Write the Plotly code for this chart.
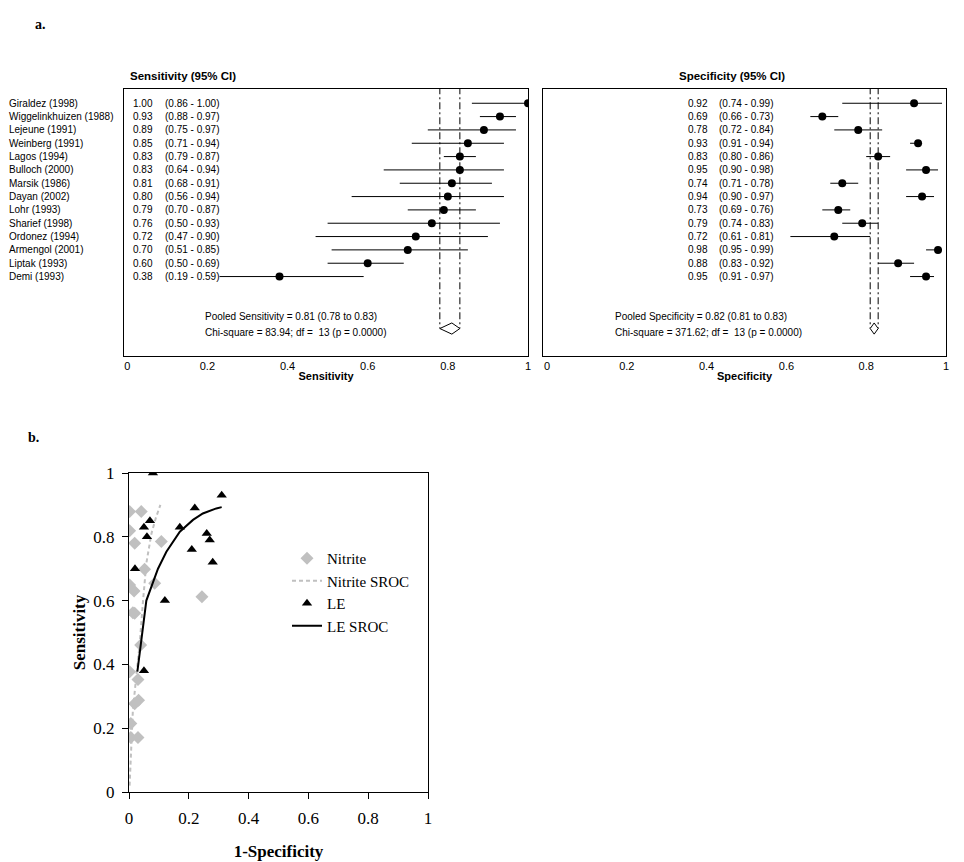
import plotly.graph_objects as go

# ---------------- data ----------------
studies = ["Giraldez (1998)", "Wiggelinkhuizen (1988)", "Lejeune (1991)", "Weinberg (1991)",
           "Lagos (1994)", "Bulloch (2000)", "Marsik (1986)", "Dayan (2002)", "Lohr (1993)",
           "Sharief (1998)", "Ordonez (1994)", "Armengol (2001)", "Liptak (1993)", "Demi (1993)"]
sens = [1.00, 0.93, 0.89, 0.85, 0.83, 0.83, 0.81, 0.80, 0.79, 0.76, 0.72, 0.70, 0.60, 0.38]
sens_lo = [0.86, 0.88, 0.75, 0.71, 0.79, 0.64, 0.68, 0.56, 0.70, 0.50, 0.47, 0.51, 0.50, 0.19]
sens_hi = [1.00, 0.97, 0.97, 0.94, 0.87, 0.94, 0.91, 0.94, 0.87, 0.93, 0.90, 0.85, 0.69, 0.59]
spec = [0.92, 0.69, 0.78, 0.93, 0.83, 0.95, 0.74, 0.94, 0.73, 0.79, 0.72, 0.98, 0.88, 0.95]
spec_lo = [0.74, 0.66, 0.72, 0.91, 0.80, 0.90, 0.71, 0.90, 0.69, 0.74, 0.61, 0.95, 0.83, 0.91]
spec_hi = [0.99, 0.73, 0.84, 0.94, 0.86, 0.98, 0.78, 0.97, 0.76, 0.83, 0.81, 0.99, 0.92, 0.97]

pooled_sens = [0.81, 0.78, 0.83]
pooled_spec = [0.82, 0.81, 0.83]
sens_chi = "83.94"
spec_chi = "371.62"
df_val = 13
p_val = "0.0000"

# SROC panel (b)
nitrite_fpr = [0.002, 0.041, 0.002, 0.019, 0.108, 0.052, 0.002, 0.017, 0.086, 0.244,
               0.013, 0.019, 0.039, 0.002, 0.030, 0.032, 0.019, 0.006, 0.006, 0.030]
nitrite_sens = [0.879, 0.879, 0.819, 0.780, 0.785, 0.698, 0.649, 0.630, 0.654, 0.612,
                0.562, 0.560, 0.461, 0.377, 0.353, 0.288, 0.277, 0.215, 0.171, 0.171]
nitrite_sroc_x = [0.002, 0.008, 0.013, 0.024, 0.036, 0.047, 0.058, 0.075, 0.090, 0.105]
nitrite_sroc_y = [0.020, 0.140, 0.257, 0.360, 0.467, 0.600, 0.717, 0.810, 0.860, 0.900]
le_fpr = [1 - s for s in spec]
le_sens = sens
le_sroc_x = [0.028, 0.039, 0.058, 0.075, 0.097, 0.125, 0.170, 0.214, 0.247, 0.292, 0.310]
le_sroc_y = [0.377, 0.466, 0.600, 0.644, 0.700, 0.753, 0.816, 0.853, 0.873, 0.889, 0.893]

ticks = [0, 0.2, 0.4, 0.6, 0.8, 1]
tick_text = ["0", "0.2", "0.4", "0.6", "0.8", "1"]

# ---------------- figure ----------------
W, H = 964, 862
OFF = 8  # page body margin of the browser
SANS = "Liberation Sans, Arial, sans-serif"
SERIF = "Liberation Serif, Times New Roman, serif"


def px(x):
    return (x - OFF) / W


def py(y):
    return 1 - (y - OFF) / H


fig = go.Figure()
rows = list(range(len(studies)))
DIAMOND_ROW = 16.9
DH = 0.42


def forest(est, lo, hi, pooled, xa, ya):
    xs, ys = [], []
    for i, (a, b) in enumerate(zip(lo, hi)):
        xs += [a, b, None]
        ys += [i, i, None]
    fig.add_trace(go.Scatter(x=xs, y=ys, mode="lines", line=dict(color="black", width=1),
                             xaxis=xa, yaxis=ya, showlegend=False, hoverinfo="skip"))
    fig.add_trace(go.Scatter(x=est, y=rows, mode="markers",
                             marker=dict(symbol="circle", size=8, color="black"),
                             xaxis=xa, yaxis=ya, showlegend=False))
    pe, pl, ph = pooled
    for v in (pl, ph):
        fig.add_trace(go.Scatter(x=[v, v], y=[-1.2, DIAMOND_ROW], mode="lines",
                                 line=dict(color="black", width=1, dash="7px,3px,2px,3px"),
                                 xaxis=xa, yaxis=ya, showlegend=False, hoverinfo="skip"))
    fig.add_trace(go.Scatter(x=[pl, pe, ph, pe, pl],
                             y=[DIAMOND_ROW, DIAMOND_ROW - DH, DIAMOND_ROW, DIAMOND_ROW + DH, DIAMOND_ROW],
                             mode="lines", line=dict(color="black", width=1), fill="toself",
                             fillcolor="white", xaxis=xa, yaxis=ya, showlegend=False,
                             hoverinfo="skip"))


forest(sens, sens_lo, sens_hi, pooled_sens, "x", "y")
forest(spec, spec_lo, spec_hi, pooled_spec, "x2", "y2")

# SROC traces
fig.add_trace(go.Scatter(x=nitrite_fpr, y=nitrite_sens, mode="markers", name="Nitrite",
                         marker=dict(symbol="diamond", size=10, color="#C0C0C0"),
                         xaxis="x3", yaxis="y3"))
fig.add_trace(go.Scatter(x=nitrite_sroc_x, y=nitrite_sroc_y, mode="lines", name="Nitrite SROC",
                         line=dict(color="#C0C0C0", width=2, dash="4px,3px"),
                         xaxis="x3", yaxis="y3"))
fig.add_trace(go.Scatter(x=le_fpr, y=le_sens, mode="markers", name="LE",
                         marker=dict(symbol="triangle-up", size=9, color="black"),
                         xaxis="x3", yaxis="y3"))
fig.add_trace(go.Scatter(x=le_sroc_x, y=le_sroc_y, mode="lines", name="LE SROC",
                         line=dict(color="black", width=2),
                         xaxis="x3", yaxis="y3"))

# ---------------- annotations ----------------
FS = dict(family=SANS, size=10, color="black")
ann = []
for i, name in enumerate(studies):
    ann.append(dict(x=px(7), y=i, xref="paper", yref="y", text=name, showarrow=False,
                    xanchor="left", yanchor="middle", font=FS))
    ann.append(dict(x=px(131), y=i, xref="paper", yref="y", text=f"{sens[i]:.2f}", showarrow=False,
                    xanchor="left", yanchor="middle", font=FS))
    ann.append(dict(x=px(164), y=i, xref="paper", yref="y",
                    text=f"({sens_lo[i]:.2f} - {sens_hi[i]:.2f})", showarrow=False,
                    xanchor="left", yanchor="middle", bgcolor="white", borderpad=0, font=FS))
    ann.append(dict(x=px(686), y=i, xref="paper", yref="y2", text=f"{spec[i]:.2f}", showarrow=False,
                    xanchor="left", yanchor="middle", font=FS))
    ann.append(dict(x=px(718), y=i, xref="paper", yref="y2",
                    text=f"({spec_lo[i]:.2f} - {spec_hi[i]:.2f})", showarrow=False,
                    xanchor="left", yanchor="middle", bgcolor="white", borderpad=0, font=FS))

ann.append(dict(x=px(203), y=16.0, xref="paper", yref="y",
                text=f"Pooled Sensitivity = {pooled_sens[0]:.2f} ({pooled_sens[1]:.2f} to {pooled_sens[2]:.2f})",
                showarrow=False, xanchor="left", yanchor="middle", font=FS))
ann.append(dict(x=px(203), y=17.2, xref="paper", yref="y",
                text=f"Chi-square = {sens_chi}; df =  {df_val} (p = {p_val})",
                showarrow=False, xanchor="left", yanchor="middle", font=FS))
ann.append(dict(x=px(613), y=16.0, xref="paper", yref="y2",
                text=f"Pooled Specificity = {pooled_spec[0]:.2f} ({pooled_spec[1]:.2f} to {pooled_spec[2]:.2f})",
                showarrow=False, xanchor="left", yanchor="middle", font=FS))
ann.append(dict(x=px(613), y=17.2, xref="paper", yref="y2",
                text=f"Chi-square = {spec_chi}; df =  {df_val} (p = {p_val})",
                showarrow=False, xanchor="left", yanchor="middle", font=FS))

ann.append(dict(x=px(128), y=py(76), xref="paper", yref="paper", text="<b>Sensitivity (95% CI)</b>",
                showarrow=False, xanchor="left", yanchor="middle",
                font=dict(family=SANS, size=11.5, color="black")))
ann.append(dict(x=px(677), y=py(76), xref="paper", yref="paper", text="<b>Specificity (95% CI)</b>",
                showarrow=False, xanchor="left", yanchor="middle",
                font=dict(family=SANS, size=11.5, color="black")))
ann.append(dict(x=px(33), y=py(25), xref="paper", yref="paper", text="<b>a.</b>",
                showarrow=False, xanchor="left", yanchor="middle",
                font=dict(family=SERIF, size=14, color="black")))
ann.append(dict(x=px(26), y=py(437), xref="paper", yref="paper", text="<b>b.</b>",
                showarrow=False, xanchor="left", yanchor="middle",
                font=dict(family=SERIF, size=14, color="black")))

forest_x = dict(range=[-0.008, 1.0], tickvals=ticks, ticktext=tick_text, ticks="",
                showline=True, mirror=True, linecolor="black", linewidth=1, showgrid=False,
                zeroline=False, tickfont=dict(family=SANS, size=11, color="black"),
                automargin=False)
forest_y = dict(range=[18.96, -1.07], showticklabels=False, ticks="", showline=True, mirror=True,
                linecolor="black", linewidth=1, showgrid=False, zeroline=False, automargin=False)

sroc_axis = dict(range=[0, 1], tickvals=ticks, ticktext=tick_text, ticks="outside", ticklen=6,
                 tickcolor="black", showline=True, mirror=True, linecolor="black", linewidth=1,
                 showgrid=False, zeroline=False, tickfont=dict(family=SERIF, size=17, color="black"),
                 automargin=False)

fig.update_layout(
    template="none",
    width=W, height=H, margin=dict(l=0, r=0, t=0, b=0, autoexpand=False),
    paper_bgcolor="white", plot_bgcolor="white",
    annotations=ann,
    xaxis=dict(forest_x, domain=[px(124), px(528)], anchor="y",
               title=dict(text="<b>Sensitivity</b>", standoff=1, font=dict(family=SANS, size=11, color="black"))),
    yaxis=dict(forest_y, domain=[py(356), py(89)], anchor="x"),
    xaxis2=dict(forest_x, range=[-0.01, 1.0], domain=[px(543), px(946)], anchor="y2",
                title=dict(text="<b>Specificity</b>", standoff=1, font=dict(family=SANS, size=11, color="black"))),
    yaxis2=dict(forest_y, domain=[py(356), py(89)], anchor="x2"),
    xaxis3=dict(sroc_axis, domain=[px(129), px(428)], anchor="y3", ticklabelstandoff=5,
                title=dict(text="<b>1-Specificity</b>", standoff=17, font=dict(family=SERIF, size=17, color="black"))),
    yaxis3=dict(sroc_axis, domain=[py(792), py(473)], anchor="x3", ticklabelstandoff=4,
                title=dict(text="<b>Sensitivity</b>", standoff=3, font=dict(family=SERIF, size=17, color="black"))),
    legend=dict(x=px(287), y=py(542), xanchor="left", yanchor="top", bgcolor="rgba(0,0,0,0)",
                font=dict(family=SERIF, size=15, color="black"), tracegroupgap=0, itemwidth=30),
    showlegend=True,
)

fig.write_html("out.html")
